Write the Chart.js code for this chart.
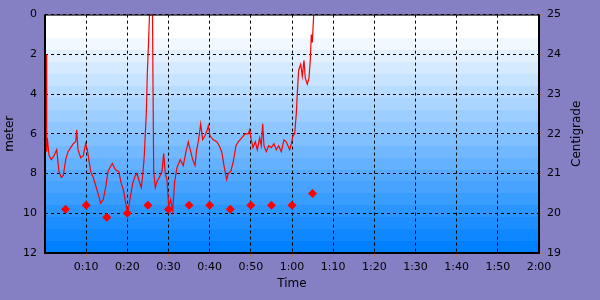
<!DOCTYPE html>
<html>
<head>
<meta charset="utf-8">
<script src="https://cdn.jsdelivr.net/npm/chart.js@4/dist/chart.umd.min.js"></script>
<style>
  html, body { margin: 0; padding: 0; background: #8580C4; }
  #wrap { width: 600px; height: 300px; }
</style>
</head>
<body>
<div id="wrap"><canvas id="c" width="600" height="300"></canvas></div>
<script>
// ---- data ----
const depthTimes = [
  0.3, 0.4, 0.56, 0.97, 1.53, 2.19, 2.84, 3.40, 3.96, 4.44,
  5.03, 5.59, 6.24, 6.87, 7.46, 7.70, 8.02, 8.67, 9.30, 9.89,
  10.27, 11.10, 11.73, 12.31, 12.87, 13.53, 14.16, 14.74, 15.30, 15.79,
  16.35, 17.08, 17.90, 18.53, 19.12, 19.50, 20.09, 20.72, 21.30, 21.93,
  22.35, 22.90, 23.39, 23.73, 24.12, 24.36, 24.61, 24.85, 25.14, 25.38,
  26.11, 26.40, 26.79, 27.20, 27.76, 28.42, 28.83, 29.22, 29.63, 30.05,
  30.53, 31.02, 31.50, 32.06, 32.86, 33.59, 34.25, 34.81, 35.39, 35.88,
  36.43, 36.85, 37.24, 37.82, 38.30, 38.86, 39.42, 39.67, 40.08, 40.88,
  41.71, 42.34, 42.92, 43.48, 44.13, 44.52, 45.11, 45.74, 46.39, 46.95,
  47.78, 48.58, 49.38, 49.72, 50.11, 50.52, 51.08, 51.57, 52.15, 52.54,
  52.88, 53.19, 53.75, 54.34, 54.97, 55.62, 56.18, 56.77, 57.40, 58.05,
  58.61, 59.02, 59.44, 59.83, 60.24, 60.65, 61.04, 61.28, 61.62, 62.11,
  62.50, 62.91, 63.23, 63.72, 64.13, 64.44, 64.69, 64.93, 65.27
];
const depthValues = [
  2.0, 6.9, 6.2, 7.1, 7.3, 7.1, 6.8, 7.9, 8.2, 8.1,
  7.3, 6.9, 6.7, 6.5, 6.4, 5.8, 6.8, 7.2, 7.1, 6.5,
  6.8, 7.9, 8.2, 8.6, 9.0, 9.5, 9.3, 8.7, 7.9, 7.7,
  7.5, 7.8, 7.9, 8.5, 8.9, 9.4, 10.0, 9.2, 8.5, 8.1,
  8.0, 8.4, 8.7, 8.1, 7.1, 6.0, 5.0, 3.0, 1.5, 0,
  0, 7.9, 8.7, 8.4, 8.2, 7.9, 7.0, 8.0, 8.3, 9.7,
  9.3, 9.9, 8.4, 7.7, 7.3, 7.6, 6.9, 6.4, 6.9, 7.3,
  7.6, 6.8, 6.4, 5.5, 6.3, 6.1, 5.8, 5.6, 6.1, 6.3,
  6.4, 6.6, 6.9, 7.6, 8.3, 8.0, 7.9, 7.4, 6.6, 6.4,
  6.2, 6.0, 6.0, 5.8, 6.3, 6.7, 6.4, 6.8, 6.2, 6.6,
  5.5, 6.6, 6.9, 6.6, 6.7, 6.5, 6.8, 6.6, 6.9, 6.3,
  6.4, 6.6, 6.8, 6.5, 6.1, 6.0, 5.0, 4.0, 2.8, 2.5,
  3.1, 2.3, 3.2, 3.5, 3.2, 2.3, 1.0, 1.4, 0
];
const tempTimes = [5, 10, 15, 20, 25, 30, 35, 40, 45, 50, 55, 60, 65];
const tempValues = [20.1, 20.2, 19.9, 20.0, 20.2, 20.1, 20.2, 20.2, 20.1, 20.2, 20.2, 20.2, 20.5];
const timeTicks = [0, 10, 20, 30, 40, 50, 60, 70, 80, 90, 100, 110, 120];
const timeTickLabels = ['', '0:10', '0:20', '0:30', '0:40', '0:50', '1:00', '1:10', '1:20', '1:30', '1:40', '1:50', '2:00'];
const depthTicks = [0, 2, 4, 6, 8, 10, 12];
const tempTicks = [19, 20, 21, 22, 23, 24, 25];

// ---- plugins ----
const bgPlugin = {
  id: 'bg',
  beforeDraw(chart) {
    const ctx = chart.ctx;
    ctx.save();
    ctx.fillStyle = '#8580C4';
    ctx.fillRect(0, 0, chart.width, chart.height);
    const a = chart.chartArea;
    const n = 20;
    const h = (a.bottom - a.top) / n;
    for (let i = 0; i < n; i++) {
      const t = Math.max(0, i - 1) / (n - 2);
      const r = Math.round(255 * (1 - t));
      const g = Math.round(255 - 127 * t);
      ctx.fillStyle = `rgb(${r},${g},255)`;
      const y0 = Math.round(a.top + i * h);
      const y1 = Math.round(a.top + (i + 1) * h);
      ctx.fillRect(a.left, y0, a.right - a.left, y1 - y0);
    }
    ctx.restore();
  }
};
const framePlugin = {
  id: 'frame',
  afterDraw(chart) {
    const ctx = chart.ctx;
    const a = chart.chartArea;
    ctx.save();
    ctx.strokeStyle = '#000';
    ctx.lineWidth = 1;
    ctx.beginPath();
    ctx.moveTo(a.left, a.top + 0.5); ctx.lineTo(a.right, a.top + 0.5);
    ctx.stroke();
    ctx.lineWidth = 2;
    ctx.beginPath();
    ctx.moveTo(a.left, a.top); ctx.lineTo(a.left, a.bottom);
    ctx.lineTo(a.right, a.bottom); ctx.lineTo(a.right, a.top);
    ctx.stroke();
    // right axis title, reading bottom-to-top
    ctx.fillStyle = '#000';
    ctx.font = '12px "DejaVu Sans"';
    ctx.textAlign = 'center';
    ctx.textBaseline = 'middle';
    ctx.translate(577, (a.top + a.bottom) / 2);
    ctx.rotate(-Math.PI / 2);
    ctx.fillText('Centigrade', 0, 0);
    ctx.restore();
  }
};

const tickFont = { family: 'DejaVu Sans', size: 11 };
const titleFont = { family: 'DejaVu Sans', size: 12 };

new Chart(document.getElementById('c'), {
  type: 'scatter',
  data: {
    datasets: [
      {
        label: 'Depth',
        data: depthTimes.map((t, i) => ({ x: t, y: depthValues[i] })),
        showLine: true,
        borderColor: '#f00',
        borderWidth: 1.2,
        pointRadius: 0,
        pointHoverRadius: 0,
        tension: 0,
        yAxisID: 'y',
        order: 2
      },
      {
        label: 'Temperature',
        data: tempTimes.map((t, i) => ({ x: t, y: tempValues[i] })),
        showLine: false,
        pointStyle: 'rectRot',
        pointRadius: 4.5,
        backgroundColor: '#f00',
        borderColor: '#f00',
        borderWidth: 0,
        yAxisID: 'y2',
        order: 1
      }
    ]
  },
  options: {
    responsive: false,
    animation: false,
    layout: { padding: { top: 9, left: 0, right: 0, bottom: 0 } },
    plugins: { legend: { display: false }, tooltip: { enabled: false } },
    scales: {
      x: {
        type: 'linear',
        min: 0, max: 120,
        afterBuildTicks: s => { s.ticks = timeTicks.map(v => ({ value: v })); },
        afterFit: s => { s.height = 47; },
        ticks: {
          font: tickFont, color: '#000', padding: 4, maxRotation: 0, autoSkip: false,
          callback: (v) => timeTickLabels[timeTicks.indexOf(v)]
        },
        grid: {
          color: '#000', lineWidth: 1,
          drawTicks: true, tickLength: 4, tickColor: '#b07a60', tickBorderDash: []
        },
        border: { display: false, dash: [3, 3] },
        title: { display: true, text: 'Time', font: titleFont, color: '#000', padding: { top: 0, bottom: 9 } }
      },
      y: {
        type: 'linear',
        position: 'left',
        reverse: true,
        min: 0, max: 12,
        afterBuildTicks: s => { s.ticks = depthTicks.map(v => ({ value: v })); },
        afterFit: s => { s.width = 45; },
        ticks: { font: tickFont, color: '#000', padding: 8 },
        grid: { color: '#000', lineWidth: 1, drawTicks: false },
        border: { display: false, dash: [3, 3] },
        title: { display: true, text: 'meter', font: titleFont, color: '#000', padding: { top: 3, bottom: 0 } }
      },
      y2: {
        type: 'linear',
        position: 'right',
        min: 19, max: 25,
        afterBuildTicks: s => { s.ticks = tempTicks.map(v => ({ value: v })); },
        afterFit: s => { s.width = 61; },
        ticks: { font: tickFont, color: '#000', padding: 4 },
        grid: { drawOnChartArea: false, drawTicks: true, tickLength: 4, tickColor: '#b07a60' },
        border: { display: false },
        title: { display: false }
      }
    }
  },
  plugins: [bgPlugin, framePlugin]
});
</script>
</body>
</html>
